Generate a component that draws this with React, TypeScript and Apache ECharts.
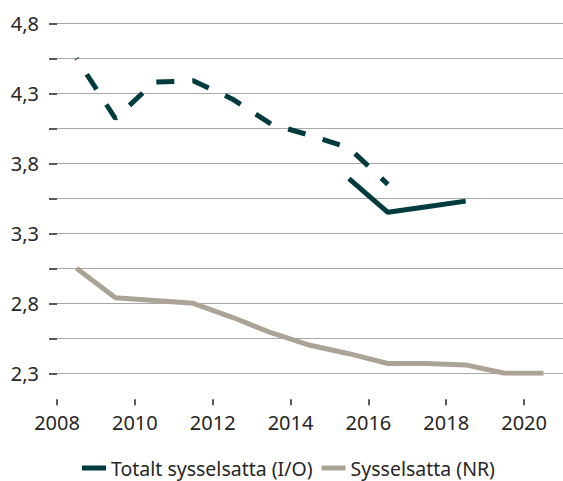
import React, { useEffect, useRef } from "react";
import * as echarts from "echarts";

const years = [2008.5, 2009.5, 2010.5, 2011.5, 2012.5, 2013.5, 2014.5, 2015.5, 2016.5, 2017.5, 2018.5, 2019.5, 2020.5];
const ioDashed = [4.55, 4.12, 4.38, 4.39, 4.26, 4.08, 4.0, 3.91, 3.65, null, null, null, null];
const ioSolid = [null, null, null, null, null, null, null, 3.69, 3.45, 3.49, 3.53, null, null];
const nr = [3.05, 2.84, 2.82, 2.8, 2.7, 2.59, 2.5, 2.44, 2.37, 2.37, 2.36, 2.3, 2.3];
const xLabels = [2008, 2010, 2012, 2014, 2016, 2018, 2020];
const yLabels = [2.3, 2.8, 3.3, 3.8, 4.3, 4.8];
const yTicks = [2.3, 2.55, 2.8, 3.05, 3.3, 3.55, 3.8, 4.05, 4.3, 4.55, 4.8];
const names = ["Totalt sysselsatta (I/O)", "Sysselsatta (NR)"];

const DARK = "#003c3e";
const GRAY = "#aca397";
const FONT = "Noto Sans";

function pairs(vals: (number | null)[]) {
  return years.map((y, i) => [y, vals[i]]);
}

export default function App() {
  const ref = useRef<HTMLDivElement>(null);
  useEffect(() => {
    if (!ref.current) return;
    const chart = echarts.init(ref.current, null, { renderer: "svg" });
    chart.setOption({
      animation: false,
      backgroundColor: "#ffffff",
      textStyle: { fontFamily: FONT },
      grid: { left: 57, top: 23.3, width: 509.6, height: 350 },
      legend: {
        left: 82,
        top: 458,
        padding: 0,
        itemWidth: 24,
        itemHeight: 5,
        itemGap: 9,
        itemStyle: { borderWidth: 0 },
        textStyle: { fontFamily: FONT, fontSize: 19.5, color: "#262626" },
        data: [
          { name: names[0], icon: "rect", itemStyle: { color: DARK, borderWidth: 0 } },
          { name: names[1], icon: "rect", itemStyle: { color: GRAY, borderWidth: 0 } },
        ],
      },
      xAxis: {
        type: "value",
        min: 2008,
        max: 2021,
        offset: 26,
        axisLine: { show: false },
        axisTick: {
          show: true,
          length: 6,
          customValues: xLabels,
          lineStyle: { color: "#222", width: 1.5 },
        },
        axisLabel: {
          customValues: xLabels,
          margin: 13,
          fontFamily: FONT,
          fontSize: 20,
          color: "#262626",
          formatter: (v: number) => String(v),
        },
        splitLine: { show: false },
      },
      yAxis: {
        type: "value",
        min: 2.3,
        max: 4.8,
        axisLine: { show: false },
        axisTick: {
          show: true,
          length: 8,
          customValues: yTicks,
          lineStyle: { color: "#222", width: 1.5 },
        },
        axisLabel: {
          customValues: yLabels,
          margin: 18,
          fontFamily: FONT,
          fontSize: 20,
          color: "#262626",
          formatter: (v: number) => v.toFixed(1).replace(".", ","),
        },
        splitLine: { show: true, lineStyle: { color: "#a8a8a8", width: 1.2 } },
      },
      series: [
        {
          name: names[0],
          type: "line",
          data: pairs(ioDashed),
          symbol: "none",
          connectNulls: false,
          lineStyle: { color: DARK, width: 5, type: [18, 18], dashOffset: 17, cap: "butt" },
          itemStyle: { color: DARK },
        },
        {
          name: names[0],
          type: "line",
          data: pairs(ioSolid),
          symbol: "none",
          lineStyle: { color: DARK, width: 5 },
          itemStyle: { color: DARK },
        },
        {
          name: names[1],
          type: "line",
          data: pairs(nr),
          symbol: "none",
          lineStyle: { color: GRAY, width: 5 },
          itemStyle: { color: GRAY },
        },
      ],
    });
    return () => chart.dispose();
  }, []);
  return (
    <div
      ref={ref}
      style={{ position: "fixed", left: 0, top: 0, width: 563, height: 481, background: "#fff" }}
    />
  );
}
